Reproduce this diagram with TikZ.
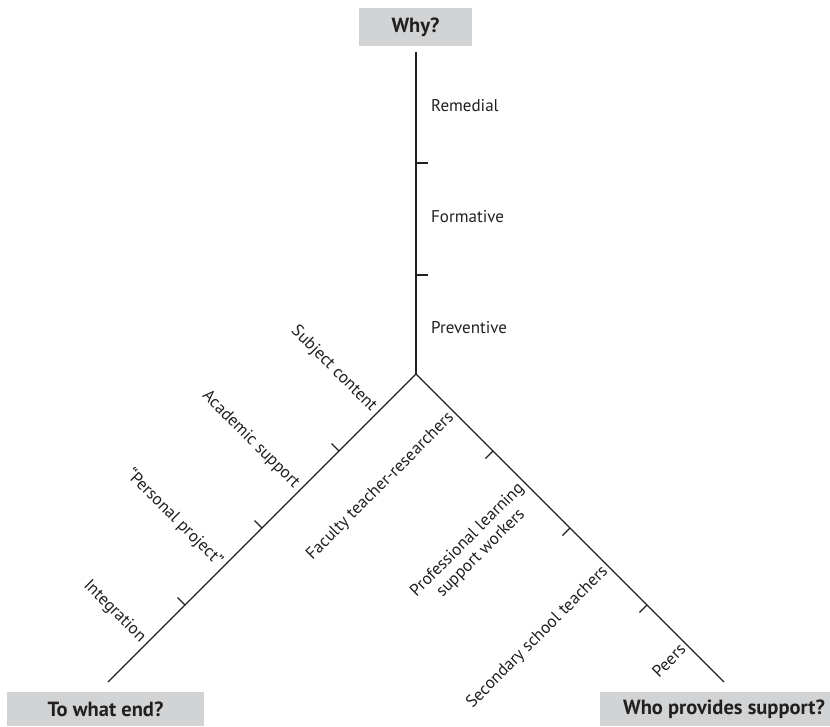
\documentclass[tikz,border=0pt]{standalone}
\usepackage{fontspec}
\setmainfont{PT Sans}
\usetikzlibrary{calc}
\definecolor{boxgray}{HTML}{D1D3D4}
\definecolor{ink}{HTML}{231F20}
\begin{document}
\begin{tikzpicture}[x=1pt,y=-1pt,
  axis/.style={draw=ink,line width=1.3pt},
  qbox/.style={fill=boxgray,inner sep=0pt,text=ink,font=\fontsize{20.5}{24}\selectfont\bfseries},
  lab/.style={text=ink,inner sep=0pt,font=\fontsize{17}{19}\selectfont},
  llab/.style={lab,anchor=east,rotate=-45},
  rlab/.style={lab,anchor=east,rotate=45,align=center}]
\useasboundingbox (0,0) rectangle (830,726);
% question boxes
\node[qbox,minimum width=113pt,minimum height=38pt] (why) at (415.5,27) {Why?};
\node[qbox,minimum width=197pt,minimum height=34pt] (end) at (105.5,709) {To what end?};
\node[qbox,minimum width=230pt,minimum height=34pt] (who) at (715,709) {\hspace*{18pt}Who provides support?};
% axes
\coordinate (T) at (416,52);
\coordinate (J) at (416,374);
\coordinate (L) at (108,682);
\coordinate (R) at (724,682);
\draw[axis] (T) -- (J);
\draw[axis] (J) -- (L);
\draw[axis] (J) -- (R);
% vertical ticks
\coordinate (v1) at (416,163);
\coordinate (v2) at (416,275);
\draw[axis] (v1) -- ++(12,0);
\draw[axis] (v2) -- ++(12,0);
% branch ticks
\foreach \f in {0.25,0.5,0.75}{
  \draw[axis] ($(J)!\f!(L)$) -- ++(-7.5,-7.5);
  \draw[axis] ($(J)!\f!(R)$) -- ++(-7.5,7.5);
}
% vertical labels
\node[lab,anchor=west] (rem) at ($(T)!0.5!(v1)+(15,-2)$) {Remedial};
\node[lab,anchor=west] (for) at ($(v1)!0.5!(v2)+(15,-2)$) {Formative};
\node[lab,anchor=west] (pre) at ($(v2)!0.5!(J)+(15,3)$) {Preventive};
% left labels
\node[llab] (sub) at ($(J)!0.125!(L)+(-3.5,-3.5)$) {Subject content};
\node[llab] (aca) at ($(J)!0.375!(L)+(-3.5,-3.5)$) {Academic support};
\node[llab] (per) at ($(J)!0.625!(L)+(-3.5,-3.5)$) {“Personal project”};
\node[llab] (int) at ($(J)!0.875!(L)+(-3.5,-3.5)$) {Integration};
% right labels
\node[rlab] (fac) at ($(J)!0.125!(R)+(-3,3)$) {Faculty teacher-researchers};
\node[rlab] (pro) at ($(J)!0.375!(R)+(-3,3)$) {Professional learning\\support workers};
\node[rlab] (sec) at ($(J)!0.625!(R)+(-3,3)$) {Secondary school teachers};
\node[rlab] (pee) at ($(J)!0.875!(R)+(-3,3)$) {Peers};
\end{tikzpicture}
\end{document}
